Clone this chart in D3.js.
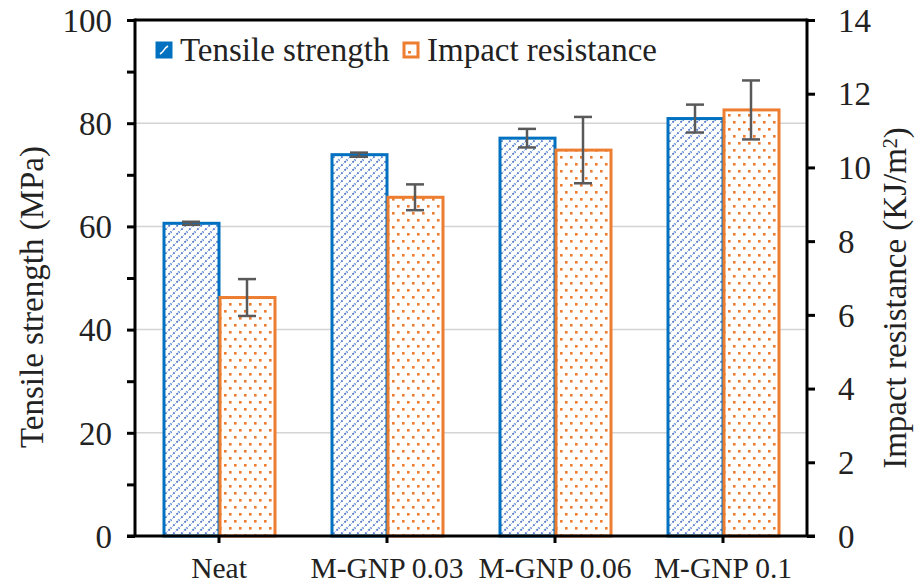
<!DOCTYPE html>
<html>
<head>
<meta charset="utf-8">
<script src="https://cdn.jsdelivr.net/npm/d3@7"></script>
<style>
  body { margin: 0; background: #fff; }
</style>
</head>
<body>
<svg id="chart" width="921" height="585" font-family="Liberation Serif"></svg>
<script>
// data
const categories = ['Neat', 'M-GNP 0.03', 'M-GNP 0.06', 'M-GNP 0.1'];
const seriesNames = ['Tensile strength', 'Impact resistance'];
const tensile = [60.6, 73.9, 77.1, 80.9];
const tensileErr = [0.3, 0.4, 1.8, 2.7];
const impact = [6.47, 9.19, 10.47, 11.56];
const impactErr = [0.5, 0.35, 0.9, 0.8];
const leftTicks = [0, 20, 40, 60, 80, 100];
const leftMinor = [10, 30, 50, 70, 90];
const rightTicks = [0, 2, 4, 6, 8, 10, 12, 14];

const blue = '#0070C0', blueFill = '#4472C4', orange = '#ED7D31', errColor = '#595959';
const fontName = "'Liberation Serif'";

const svg = d3.select('#chart');
const plotL = 135, plotR = 807, plotT = 20, plotB = 536;

const x0 = d3.scaleBand().domain(categories).range([plotL, plotR])
  .paddingInner(1 / 3).paddingOuter(1 / 6);
const x1 = d3.scaleBand().domain(seriesNames).range([0, x0.bandwidth()]);
const yL = d3.scaleLinear().domain([0, 100]).range([plotB, plotT]);
const yR = d3.scaleLinear().domain([0, 14]).range([plotB, plotT]);

// fill patterns
const defs = svg.append('defs');
const hatch = defs.append('pattern').attr('id', 'hatch')
  .attr('patternUnits', 'userSpaceOnUse').attr('width', 8).attr('height', 8);
hatch.append('rect').attr('width', 8).attr('height', 8).attr('fill', '#fff');
hatch.append('path').attr('d', 'M-1,9 L9,-1 M-4,4 L4,-4 M4,12 L12,4')
  .attr('stroke', '#b4c7e7').attr('stroke-width', 1);
hatch.append('path').attr('d', 'M-1,9 L9,-1 M-4,4 L4,-4 M4,12 L12,4')
  .attr('stroke', blueFill).attr('stroke-width', 1.8).attr('stroke-dasharray', '1.6,3.1');

const dots = defs.append('pattern').attr('id', 'dots')
  .attr('patternUnits', 'userSpaceOnUse').attr('width', 10).attr('height', 14);
dots.append('rect').attr('width', 10).attr('height', 14).attr('fill', '#fff');
dots.append('rect').attr('x', 1).attr('y', 2).attr('width', 2.6).attr('height', 2.6).attr('fill', orange);
dots.append('rect').attr('x', 6).attr('y', 9).attr('width', 2.6).attr('height', 2.6).attr('fill', orange);

// gridlines
svg.append('g').selectAll('line').data([20, 40, 60, 80]).join('line')
  .attr('x1', plotL).attr('x2', plotR)
  .attr('y1', d => yL(d)).attr('y2', d => yL(d))
  .attr('stroke', '#d4d4d4').attr('stroke-width', 1.5);

// bars
const rows = categories.map((c, i) => ({ c, t: tensile[i], te: tensileErr[i], m: impact[i], me: impactErr[i] }));
const groups = svg.append('g').selectAll('g').data(rows).join('g')
  .attr('transform', d => 'translate(' + x0(d.c) + ',0)');

groups.append('rect')
  .attr('x', x1(seriesNames[0]) + 1).attr('width', x1.bandwidth() - 1)
  .attr('y', d => yL(d.t)).attr('height', d => plotB - yL(d.t))
  .attr('fill', 'url(#hatch)').attr('stroke', blue).attr('stroke-width', 3);
groups.append('rect')
  .attr('x', x1(seriesNames[1]) + 1).attr('width', x1.bandwidth() - 1)
  .attr('y', d => yR(d.m)).attr('height', d => plotB - yR(d.m))
  .attr('fill', 'url(#dots)').attr('stroke', orange).attr('stroke-width', 3);

// error bars
function errBar(g, cx, yTop, yBot) {
  g.append('line').attr('x1', cx).attr('x2', cx).attr('y1', yTop).attr('y2', yBot);
  g.append('line').attr('x1', cx - 9).attr('x2', cx + 9).attr('y1', yTop).attr('y2', yTop);
  g.append('line').attr('x1', cx - 9).attr('x2', cx + 9).attr('y1', yBot).attr('y2', yBot);
}
groups.each(function (d) {
  const g = d3.select(this).append('g').attr('stroke', errColor).attr('stroke-width', 2.5);
  const c1 = x1(seriesNames[0]) + x1.bandwidth() / 2;
  const c2 = x1(seriesNames[1]) + x1.bandwidth() / 2;
  errBar(g, c1, yL(d.t + d.te), yL(d.t - d.te));
  errBar(g, c2, yR(d.m + d.me), yR(d.m - d.me));
});

// frame
const frame = svg.append('g').attr('stroke', '#000').attr('stroke-width', 3);
frame.append('line').attr('x1', plotL).attr('x2', plotR).attr('y1', plotT).attr('y2', plotT);
frame.append('line').attr('x1', plotL - 8).attr('x2', plotR + 8).attr('y1', plotB).attr('y2', plotB);
frame.append('line').attr('x1', plotL).attr('x2', plotL).attr('y1', plotT - 1.5).attr('y2', plotB);
frame.append('line').attr('x1', plotR).attr('x2', plotR).attr('y1', plotT - 1.5).attr('y2', plotB);

// axes
const axisL = svg.append('g').attr('transform', 'translate(' + plotL + ',0)')
  .call(d3.axisLeft(yL).tickValues(leftTicks).tickSize(8).tickPadding(15));
svg.append('g').attr('transform', 'translate(' + plotL + ',0)')
  .call(d3.axisLeft(yL).tickValues(leftMinor).tickSize(8).tickFormat(''));
const axisR = svg.append('g').attr('transform', 'translate(' + plotR + ',0)')
  .call(d3.axisRight(yR).tickValues(rightTicks).tickSize(8).tickPadding(23));
const axisB = svg.append('g').attr('transform', 'translate(0,' + plotB + ')')
  .call(d3.axisBottom(x0).tickSize(7).tickSizeOuter(0));
axisB.selectAll('.tick').attr('transform', d => 'translate(' + (x0(d) + x0.bandwidth() / 2) + ',0)');

svg.selectAll('.domain').remove();
svg.selectAll('g').attr('font-family', null).attr('font-size', null);
svg.selectAll('.tick line').attr('stroke', '#000').attr('stroke-width', 3);
axisL.selectAll('text').style('font-size', '33px').attr('dy', '0.34em');
axisR.selectAll('text').style('font-size', '33px').attr('dy', '0.34em');
axisB.selectAll('text').style('font-size', '29.5px').attr('y', 42).attr('dy', 0);

// axis titles
svg.append('text').attr('transform', 'translate(43,297) rotate(-90)')
  .attr('text-anchor', 'middle').style('font-size', '33px').text('Tensile strength (MPa)');
const rt = svg.append('text').attr('transform', 'translate(906,298) rotate(-90)')
  .attr('text-anchor', 'middle').style('font-size', '33px');
rt.append('tspan').text('Impact resistance (KJ/m');
rt.append('tspan').attr('dy', '-0.45em').style('font-size', '20px').text('2');
rt.append('tspan').attr('dy', '0.3em').text(')');

// legend
const legend = svg.append('g');
const legendX = [157, 404];
const legendStroke = [blue, orange];
seriesNames.forEach((s, i) => {
  legend.append('rect').attr('x', legendX[i]).attr('y', 43).attr('width', 14).attr('height', 14)
    .attr('fill', i === 0 ? blue : '#fff').attr('stroke', legendStroke[i]).attr('stroke-width', 3);
  legend.append('text').attr('x', legendX[i] + 23).attr('y', 61)
    .style('font-size', '33px').text(s);
});
// small marks inside the legend keys, like the tiny pattern swatches
legend.append('path').attr('d', 'M' + (legendX[0] + 3) + ',54 q3,-2 4,-4 t4,-4')
  .attr('fill', 'none').attr('stroke', '#fff').attr('stroke-width', 1.6);
legend.append('rect').attr('x', legendX[1] + 4).attr('y', 51).attr('width', 3).attr('height', 2.5).attr('fill', orange);

svg.selectAll('text').style('font-family', fontName).style('fill', '#222');
</script>
</body>
</html>
